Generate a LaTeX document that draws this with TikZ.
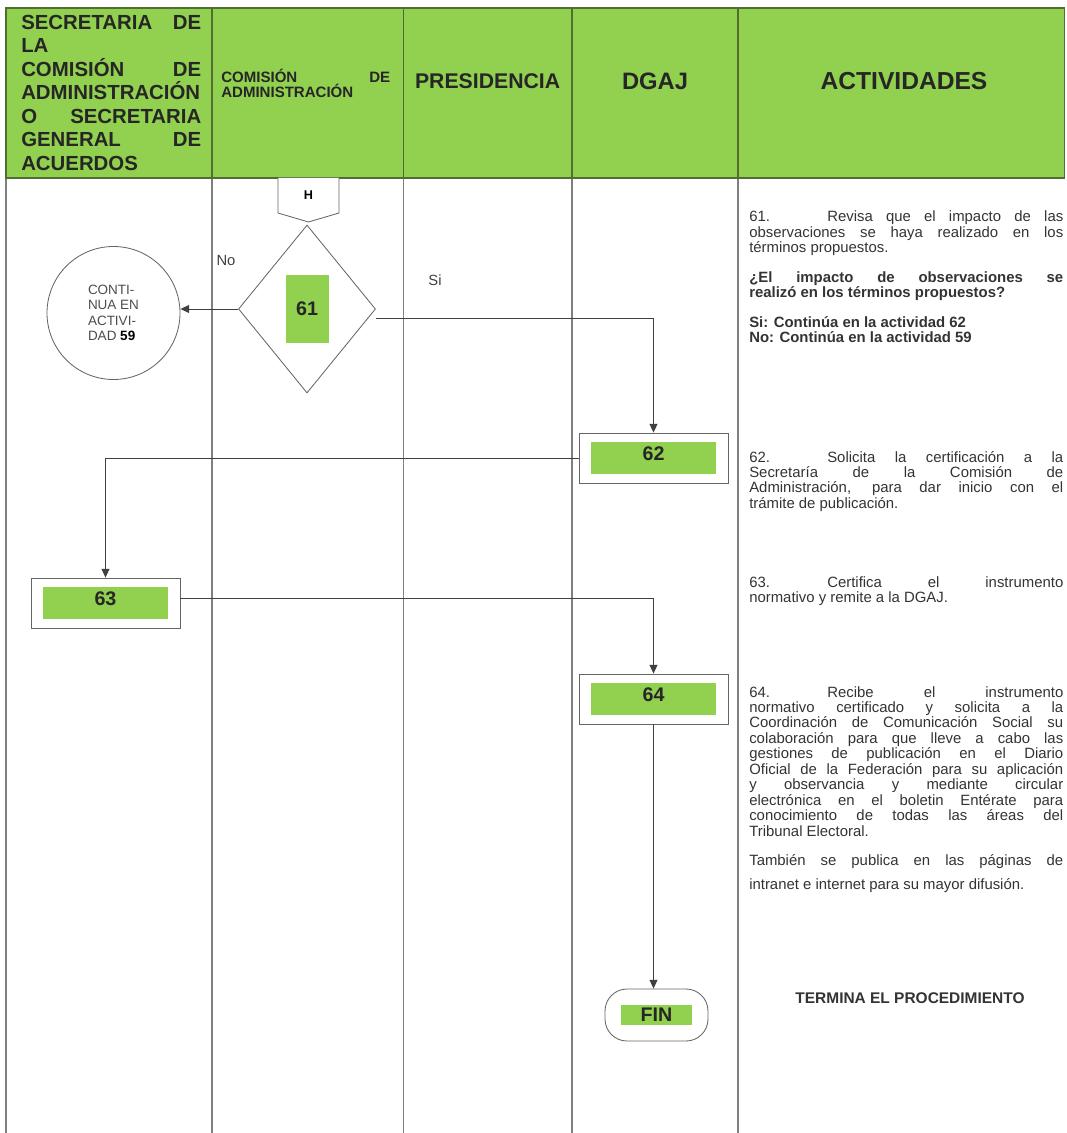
\documentclass[tikz,border=0pt]{standalone}
\usepackage{fontspec}
\setmainfont{Liberation Sans}
\usetikzlibrary{arrows.meta,positioning,shapes.geometric}

\definecolor{hdrgreen}{RGB}{146,208,80}
\definecolor{hdrline}{RGB}{80,110,50}
\definecolor{txtgray}{RGB}{51,51,51}

\newlength{\colw}
\setlength{\colw}{7.85cm}
\newcommand{\jline}[1]{\makebox[\colw][s]{\spaceskip=0.278em plus 1fil\xspaceskip=0.278em plus 1fil\relax #1}}
\newcommand{\numtab}[1]{\makebox[1.95cm][l]{#1}}

\begin{document}
\begin{tikzpicture}[
    lane/.style={draw=black!50, line width=0.9pt},
    hdrtext/.style={inner sep=0pt, text=black!85},
    outerbox/.style={rectangle, draw=black!60, fill=white, line width=0.6pt, minimum width=3.725cm, minimum height=1.25cm},
    greenbox/.style={rectangle, fill=hdrgreen, inner sep=0pt, font=\bfseries\fontsize{14}{16}\selectfont, text=black!85},
    actlabel/.style={greenbox, minimum width=3.125cm, minimum height=0.8cm, text height=0.36cm, text depth=0.225cm},
    decision/.style={diamond, draw=black!60, line width=0.6pt, minimum width=3.425cm, minimum height=4.2cm, inner sep=0pt},
    connector/.style={circle, draw=black!60, line width=0.6pt, minimum size=3.325cm, align=left, font=\fontsize{9.6}{11}\selectfont, text=black!70},
    terminal/.style={rectangle, rounded corners=0.55cm, draw=black!60, line width=0.6pt, minimum width=2.575cm, minimum height=1.3cm},
    flow/.style={draw=black!75, line width=0.7pt, -{Triangle[length=2.2mm,width=2mm]}},
    lbl/.style={font=\fontsize{10.5}{12}\selectfont, text=black!75},
    activity/.style={anchor=base west, inner sep=0pt, text width=\colw, align=justify, font=\fontsize{10.6}{11}\selectfont, text=txtgray}
]

\useasboundingbox (0,0) rectangle (26.65,-28.325);

% Lanes
\foreach \x in {0.15,5.3,10.08,14.3,18.45}
    \draw[lane] (\x,-4.45) -- (\x,-28.325);

% Header row
\fill[hdrgreen] (0.15,-0.2) rectangle (26.62,-4.45);
\draw[hdrline, line width=0.9pt] (0.15,-0.2) rectangle (26.62,-4.45);
\foreach \x in {5.3,10.08,14.3,18.45}
    \draw[hdrline, line width=0.9pt] (\x,-0.2) -- (\x,-4.45);

\node[hdrtext, anchor=base west, text width=4.5cm, align=left, font=\bfseries\fontsize{14.5}{16.7}\selectfont] (hSec) at (0.525,-0.733)
    {SECRETARIA\hfill DE\\LA\\COMISIÓN\hfill DE\\ADMINISTRACIÓN\\O\hfill SECRETARIA\\GENERAL\hfill DE\\ACUERDOS};
\node[hdrtext, anchor=base west, text width=4.225cm, align=left, font=\bfseries\fontsize{10.7}{9}\selectfont] (hCom) at (5.525,-2.075)
    {COMISIÓN\hfill DE\\ADMINISTRACIÓN};
\node[hdrtext, font=\bfseries\fontsize{15.1}{18}\selectfont] (hPre) at (12.19,-2.025) {PRESIDENCIA};
\node[hdrtext, font=\bfseries\fontsize{16.9}{20}\selectfont] (hDga) at (16.375,-2.025) {DGAJ};
\node[hdrtext, font=\bfseries\fontsize{17.5}{21}\selectfont] (hAct) at (22.6,-2.025) {ACTIVIDADES};

% Off-page connector H
\draw[draw=black!60, line width=0.6pt, fill=white] (6.95,-4.45) -- (6.95,-5.325) -- (7.7125,-5.55) -- (8.475,-5.325) -- (8.475,-4.45);
\node[font=\bfseries\fontsize{9}{10}\selectfont] (conH) at (7.7125,-4.875) {H};

% Decision 61
\node[decision] (d61) at (7.675,-7.725) {};
\node[greenbox, minimum width=1.075cm, minimum height=1.7cm] (g61) at (d61.center) {61};

% Continue in activity 59
\node[connector] (c59) at (2.8375,-7.825) {CONTI-\\NUA EN\\ACTIVI-\\DAD {\color{black}\textbf{59}}};

\node[lbl] (lblNo) at (5.65,-6.5) {No};
\node[lbl] (lblSi) at (10.875,-7.0) {Si};

% Activity boxes
\node[outerbox] (b62) at (16.3375,-11.45) {};
\node[actlabel] (g62) at (b62.center) {62};
\node[outerbox] (b63) at (2.6375,-15.075) {};
\node[actlabel] (g63) at (b63.center) {63};
\node[outerbox] (b64) at (16.3375,-17.475) {};
\node[actlabel] (g64) at (b64.center) {64};
\node[terminal] (fin) at (16.4125,-25.375) {};
\node[greenbox, minimum width=1.775cm, minimum height=0.5cm] (gfin) at (fin.center) {FIN};

% Flow
\draw[flow] (d61.west) -- (d61.west -| c59.east);
\draw[flow] ([yshift=-0.225cm]d61.east) -| (b62.north);
\draw[flow] (b62.west) -| (b63.north);
\draw[flow] ([yshift=0.125cm]b63.east) -| (b64.north);
\draw[flow] (b64.south) -- (b64.south |- fin.north);

% Activities column
\node[activity] (t61) at (18.725,-5.55) {%
    \jline{\numtab{61.}Revisa que el impacto de las}\\
    \jline{observaciones se haya realizado en los}\\
    términos propuestos.\\[10pt]
    \textbf{\jline{¿El impacto de observaciones se}}\\
    \textbf{realizó en los términos propuestos?}\\[10pt]
    \textbf{Si: Continúa en la actividad 62}\\
    \textbf{No: Continúa en la actividad 59}};

\node[activity] (t62) at (18.725,-11.55) {%
    \jline{\numtab{62.}Solicita la certificación a la}\\
    \jline{Secretaría de la Comisión de}\\
    \jline{Administración, para dar inicio con el}\\
    trámite de publicación.};

\node[activity] (t63) at (18.725,-14.675) {%
    \jline{\numtab{63.}Certifica el instrumento}\\
    normativo y remite a la DGAJ.};

\node[activity] (t64) at (18.725,-17.425) {%
    \jline{\numtab{64.}Recibe el instrumento}\\
    \jline{normativo certificado y solicita a la}\\
    \jline{Coordinación de Comunicación Social su}\\
    \jline{colaboración para que lleve a cabo las}\\
    \jline{gestiones de publicación en el Diario}\\
    \jline{Oficial de la Federación para su aplicación}\\
    \jline{y observancia y mediante circular}\\
    \jline{electrónica en el boletin Entérate para}\\
    \jline{conocimiento de todas las áreas del}\\
    Tribunal Electoral.\\[10pt]
    \jline{También se publica en las páginas de}\\[6pt]
    intranet e internet para su mayor difusión.};

\node[font=\bfseries\fontsize{11}{13}\selectfont, text=txtgray] (tEnd) at (22.75,-24.95) {TERMINA EL PROCEDIMIENTO};

\end{tikzpicture}
\end{document}
